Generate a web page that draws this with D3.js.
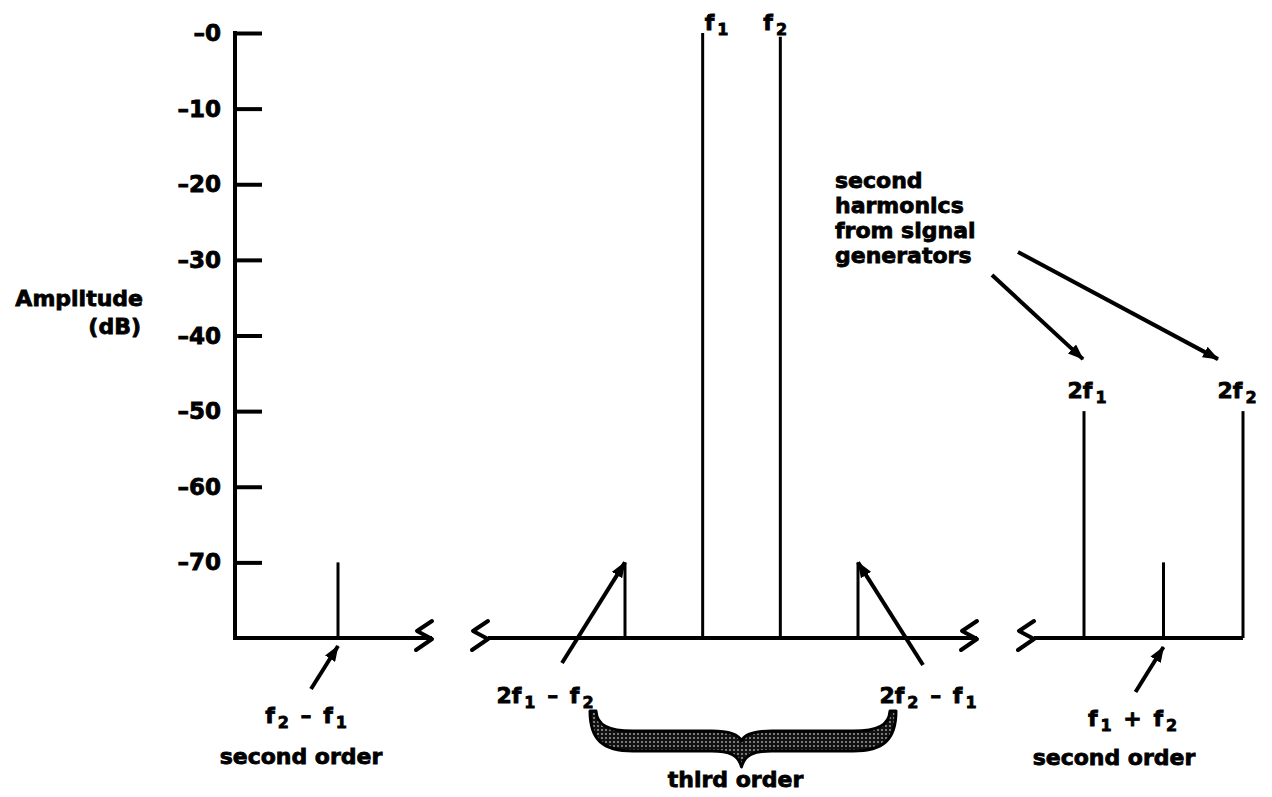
<!DOCTYPE html>
<html>
<head>
<meta charset="utf-8">
<script src="https://cdn.jsdelivr.net/npm/d3@7"></script>
<style>
body { margin: 0; background: #fff; }
svg { display: block; }
text {
    font-family: "DejaVu Sans", "Liberation Sans", sans-serif;
    font-weight: bold;
    fill: #000;
    stroke: #000;
    stroke-width: 0.8px;
    white-space: pre;
}
</style>
</head>
<body>
<svg id="chart" width="1272" height="797"></svg>
<script>
// tones in the spectrum, frequency in units where f1 = 10 and f2 = 11
var toneNames = ["f_2 – f_1", "2f_1 – f_2", "f_1", "f_2", "2f_2 – f_1", "2f_1", "f_1 + f_2", "2f_2"];
var toneFreqs = [1, 9, 10, 11, 12, 20, 21, 22];
var toneLevels = [-70, -70, 0, -0.5, -70, -50, -70, -50];
var toneSegment = [0, 1, 1, 1, 1, 2, 2, 2];

var yTicks = [0, -10, -20, -30, -40, -50, -60, -70];
var yTickLabels = ["–0", "–10", "–20", "–30", "–40", "–50", "–60", "–70"];
var yFloor = -80;

var orderNames = ["second order", "third order", "second order"];
var noteLines = ["second", "harmonics", "from signal", "generators"];

var svg = d3.select("#chart");

var y = d3.scaleLinear().domain([yFloor, 0]).range([638, 33]);
var yBase = y(yFloor);

// broken frequency axis: one scale for each piece
var segments = [
    {scale: d3.scaleLinear().domain([0, 2]).range([260, 416]), start: 235, end: 432, breakLeft: false, breakRight: true},
    {scale: d3.scaleLinear().domain([9, 12]).range([625, 858]), start: 488, end: 977, breakLeft: true, breakRight: true},
    {scale: d3.scaleLinear().domain([20, 22]).range([1084, 1243]), start: 1034, end: 1243, breakLeft: true, breakRight: false}
];

function toneX(i) {
    return segments[toneSegment[i]].scale(toneFreqs[i]);
}

// defs: arrow head + stipple for the brace
var defs = svg.append("defs");
defs.append("marker")
    .attr("id", "head")
    .attr("viewBox", "0 0 16 12")
    .attr("refX", 15).attr("refY", 6)
    .attr("markerWidth", 16).attr("markerHeight", 12)
    .attr("markerUnits", "userSpaceOnUse")
    .attr("orient", "auto")
    .append("path")
    .attr("d", "M0,0 L16,6 L0,12 Z")
    .attr("fill", "#000");

var pat = defs.append("pattern")
    .attr("id", "stip")
    .attr("width", 4).attr("height", 4)
    .attr("patternUnits", "userSpaceOnUse");
pat.append("rect").attr("width", 4).attr("height", 4).attr("fill", "#111");
pat.append("circle").attr("cx", 2).attr("cy", 2).attr("r", 0.9).attr("fill", "#aaa");

// y axis
var yAxis = d3.axisRight(y)
    .tickValues(yTicks)
    .tickSizeInner(27)
    .tickSizeOuter(0)
    .tickFormat("");

var gy = svg.append("g").attr("transform", "translate(235,0)").call(yAxis);
gy.select(".domain").remove();
gy.selectAll(".tick line").attr("stroke", "#000").attr("stroke-width", 4);

svg.append("line")
    .attr("x1", 235).attr("x2", 235)
    .attr("y1", y(0) - 2).attr("y2", yBase + 2)
    .attr("stroke", "#000").attr("stroke-width", 4);

svg.selectAll(".ylab")
    .data(yTicks)
    .enter()
    .append("text")
    .attr("class", "ylab")
    .attr("x", 221)
    .attr("y", function(d) { return y(d) + 8; })
    .attr("text-anchor", "end")
    .style("font-size", "23px")
    .text(function(d, i) { return yTickLabels[i]; });

svg.append("text").attr("x", 143).attr("y", 306).attr("text-anchor", "end")
    .style("font-size", "22px").text("Amplitude");
svg.append("text").attr("x", 141).attr("y", 334).attr("text-anchor", "end")
    .style("font-size", "22px").text("(dB)");

// baselines with break marks
function breakMark(cx) {
    return "M" + cx + "," + (yBase - 17) + " L" + (cx - 15) + "," + (yBase - 7) +
        " L" + cx + "," + (yBase + 1) + " L" + (cx - 16) + "," + (yBase + 12);
}

segments.forEach(function(s) {
    svg.append("line")
        .attr("x1", s.start).attr("x2", s.end)
        .attr("y1", yBase).attr("y2", yBase)
        .attr("stroke", "#000").attr("stroke-width", 4);
    if (s.breakLeft) {
        svg.append("path").attr("d", breakMark(s.start))
            .attr("fill", "none").attr("stroke", "#000").attr("stroke-width", 4)
            .attr("stroke-linejoin", "round").attr("stroke-linecap", "round");
    }
    if (s.breakRight) {
        svg.append("path").attr("d", breakMark(s.end))
            .attr("fill", "none").attr("stroke", "#000").attr("stroke-width", 4)
            .attr("stroke-linejoin", "round").attr("stroke-linecap", "round");
    }
});

// spectral lines
svg.selectAll(".tone")
    .data(toneFreqs)
    .enter()
    .append("line")
    .attr("class", "tone")
    .attr("x1", function(d, i) { return toneX(i); })
    .attr("x2", function(d, i) { return toneX(i); })
    .attr("y1", yBase)
    .attr("y2", function(d, i) { return y(toneLevels[i]); })
    .attr("stroke", "#000")
    .attr("stroke-width", 3);

// labels with subscripts, "_x" means subscript x
function addLabel(str, x, yy, anchor) {
    var t = svg.append("text")
        .attr("x", x).attr("y", yy)
        .attr("text-anchor", anchor)
        .attr("xml:space", "preserve")
        .style("font-size", "22px")
        .style("word-spacing", "4px");
    var parts = str.split(/(_.)/);
    var down = false;
    parts.forEach(function(p) {
        if (p === "") return;
        if (p[0] === "_") {
            t.append("tspan").attr("dx", 3).attr("dy", down ? 0 : 5).style("font-size", "16px").text(p[1]);
            down = true;
        } else {
            t.append("tspan").attr("dy", down ? -5 : 0).text(p);
            down = false;
        }
    });
    return t;
}

// label placement for each tone: [dx from line, baseline y, anchor]
var labelPlace = [
    [-32, 723, "middle"],
    [-80, 703, "middle"],
    [2, 30, "start"],
    [-17, 30, "start"],
    [70, 703, "middle"],
    [3, 398, "middle"],
    [-31, 726, "middle"],
    [-6, 398, "middle"]
];

toneNames.forEach(function(name, i) {
    var p = labelPlace[i];
    addLabel(name, toneX(i) + p[0], p[1], p[2]);
});

// arrows
function arrow(x1, y1, x2, y2) {
    svg.append("line")
        .attr("x1", x1).attr("y1", y1)
        .attr("x2", x2).attr("y2", y2)
        .attr("stroke", "#000").attr("stroke-width", 4)
        .attr("marker-end", "url(#head)");
}

arrow(toneX(0) - 27, 689, toneX(0), yBase + 8);
arrow(toneX(1) - 63, 663, toneX(1), y(toneLevels[1]));
arrow(toneX(4) + 65, 665, toneX(4), y(toneLevels[4]));
arrow(toneX(6) - 28, 692, toneX(6), yBase + 9);
arrow(992, 275, toneX(5) - 1, y(toneLevels[5]) - 52);
arrow(1018, 252, toneX(7) - 25, y(toneLevels[7]) - 52);

// note text
noteLines.forEach(function(line, i) {
    svg.append("text")
        .attr("x", 835).attr("y", 188 + i * 25)
        .style("font-size", "22px")
        .text(line);
});

// brace under the third order products
var L = 593, R = 893, xm = (toneX(2) + toneX(3)) / 2;
var yEnd = 711, bTop = 731, bBot = 751, tip = 767, notch = 741;
var brace = [
    "M", L - 3, yEnd,
    "C", L - 3, 740, L + 10, bBot, L + 40, bBot,
    "L", xm - 30, bBot,
    "C", xm - 12, bBot, xm - 3, 755, xm, tip,
    "C", xm + 3, 755, xm + 12, bBot, xm + 30, bBot,
    "L", R - 40, bBot,
    "C", R - 10, bBot, R + 3, 740, R + 3, yEnd,
    "L", R - 3, yEnd,
    "C", R - 4, 725, R - 15, bTop, R - 40, bTop,
    "L", xm + 30, bTop,
    "C", xm + 15, bTop, xm + 3, 734, xm, notch,
    "C", xm - 3, 734, xm - 15, bTop, xm - 30, bTop,
    "L", L + 40, bTop,
    "C", L + 15, bTop, L + 4, 725, L + 3, yEnd,
    "Z"
].join(" ");

svg.append("path")
    .attr("d", brace)
    .attr("fill", "url(#stip)")
    .attr("stroke", "#000")
    .attr("stroke-width", 3)
    .attr("stroke-linejoin", "round");

// order captions
svg.append("text").attr("x", 301).attr("y", 764).attr("text-anchor", "middle")
    .style("font-size", "22px").text(orderNames[0]);
svg.append("text").attr("x", xm - 6).attr("y", 787).attr("text-anchor", "middle")
    .style("font-size", "22px").text(orderNames[1]);
svg.append("text").attr("x", 1114).attr("y", 765).attr("text-anchor", "middle")
    .style("font-size", "22px").text(orderNames[2]);
</script>
</body>
</html>
